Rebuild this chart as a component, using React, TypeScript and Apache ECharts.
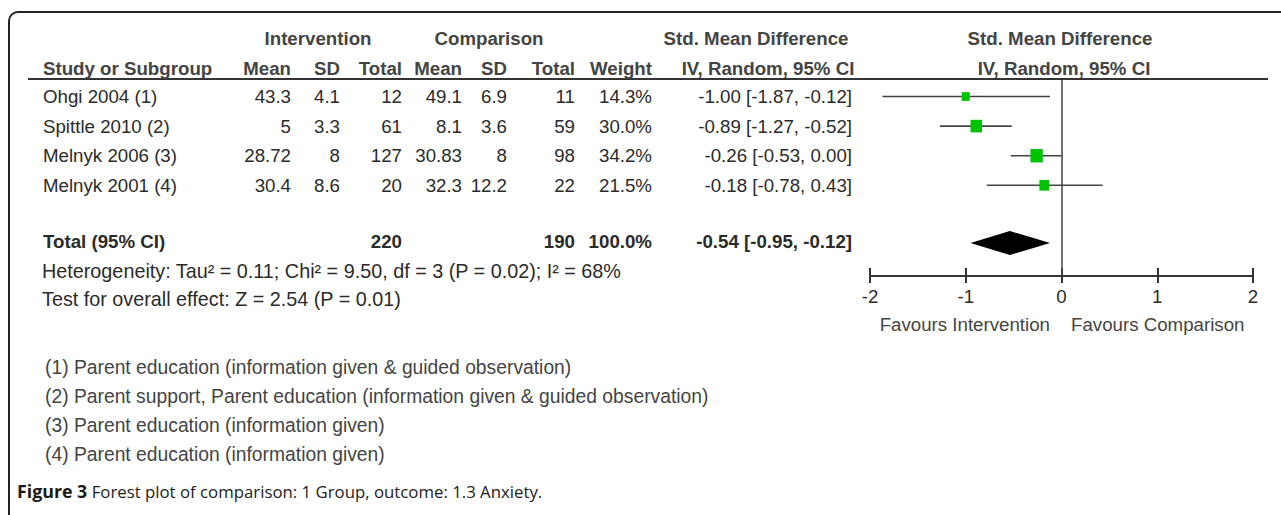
import React, { useEffect, useRef } from "react";
import * as echarts from "echarts";

// ---------- data ----------
const studies = ["Ohgi 2004 (1)", "Spittle 2010 (2)", "Melnyk 2006 (3)", "Melnyk 2001 (4)"];
const intMean = [43.3, 5, 28.72, 30.4];
const intSD = [4.1, 3.3, 8, 8.6];
const intTotal = [12, 61, 127, 20];
const compMean = [49.1, 8.1, 30.83, 32.3];
const compSD = [6.9, 3.6, 8, 12.2];
const compTotal = [11, 59, 98, 22];
const weights = [14.3, 30.0, 34.2, 21.5];
const smd = [-1.0, -0.89, -0.26, -0.18];
const ciLow = [-1.87, -1.27, -0.53, -0.78];
const ciHigh = [-0.12, -0.52, 0.0, 0.43];

const totalLabel = "Total (95% CI)";
const totalInt = 220;
const totalComp = 190;
const totalWeight = 100.0;
const pooled = -0.54;
const pooledLow = -0.95;
const pooledHigh = -0.12;

const xTicks = [-2, -1, 0, 1, 2];
const groupHeaders = ["Intervention", "Comparison"];
const colHeaders = ["Mean", "SD", "Total", "Mean", "SD", "Total", "Weight"];
const heterogeneity = "Heterogeneity: Tau\u00b2 = 0.11; Chi\u00b2 = 9.50, df = 3 (P = 0.02); I\u00b2 = 68%";
const overallEffect = "Test for overall effect: Z = 2.54 (P = 0.01)";
const favours = ["Favours Intervention", "Favours Comparison"];
const footnotes = [
  "(1) Parent education (information given & guided observation)",
  "(2) Parent support, Parent education (information given & guided observation)",
  "(3) Parent education (information given)",
  "(4) Parent education (information given)",
];
const captionBold = "Figure 3";
const captionText = " Forest plot of comparison: 1 Group, outcome: 1.3 Anxiety.";

// ---------- layout ----------
const FONT = '"Liberation Sans", Arial, Helvetica, sans-serif';
const FS = 18.7;
const TEXT = "#2b2b2b";
const HEAD = "#444";
const GRID_TOP = 80;
const AXIS_Y = 276;
const rowOffset = (i: number) => 16.5 + 29.6 * i; // offset from grid top
const TOTAL_OFFSET = 163;
const colRight = [291, 340, 402, 462, 507, 575, 652];

function txt(text: string, x: number, y: number, o: any = {}) {
  return {
    type: "text",
    x,
    y,
    silent: true,
    style: {
      text,
      fontSize: o.fontSize ?? FS,
      fontFamily: o.fontFamily ?? FONT,
      fontWeight: o.bold ? "bold" : "normal",
      fill: o.fill ?? TEXT,
      textAlign: o.align ?? "left",
      textVerticalAlign: "middle",
      ...(o.rich ? { rich: o.rich } : {}),
    },
  };
}

const fmtCI = (e: number, l: number, h: number) =>
  `${e.toFixed(2)} [${l.toFixed(2)}, ${h.toFixed(2)}]`;

function buildGraphics() {
  const g: any[] = [];
  // frame (top + left with rounded corner)
  g.push({
    type: "rect",
    silent: true,
    shape: { x: 9, y: 12, width: 1400, height: 700, r: [9, 0, 0, 0] },
    style: { fill: "none", stroke: "#222", lineWidth: 2 },
  });
  // header rule
  g.push({
    type: "line",
    silent: true,
    shape: { x1: 28, y1: GRID_TOP - 1, x2: 1268, y2: GRID_TOP - 1 },
    style: { stroke: "#333", lineWidth: 2 },
  });
  // header row 1
  g.push(txt(groupHeaders[0], 318, 38, { bold: true, align: "center", fill: HEAD }));
  g.push(txt(groupHeaders[1], 489, 38, { bold: true, align: "center", fill: HEAD }));
  g.push(txt("Std. Mean Difference", 756, 38, { bold: true, align: "center", fill: HEAD }));
  g.push(txt("Std. Mean Difference", 1060, 38, { bold: true, align: "center", fill: HEAD }));
  // header row 2
  g.push(txt("Study or Subgroup", 43, 68, { bold: true, fill: HEAD }));
  colHeaders.forEach((h, i) => g.push(txt(h, colRight[i], 68, { bold: true, align: "right", fill: HEAD })));
  g.push(txt("IV, Random, 95% CI", 768, 68, { bold: true, align: "center", fill: HEAD }));
  g.push(txt("IV, Random, 95% CI", 1064, 68, { bold: true, align: "center", fill: HEAD }));
  // study rows
  studies.forEach((s, i) => {
    const y = GRID_TOP + rowOffset(i);
    const vals = [
      String(intMean[i]),
      String(intSD[i]),
      String(intTotal[i]),
      String(compMean[i]),
      String(compSD[i]),
      String(compTotal[i]),
      weights[i].toFixed(1) + "%",
    ];
    g.push(txt(s, 43, y));
    vals.forEach((v, j) => g.push(txt(v, colRight[j], y, { align: "right" })));
    g.push(txt(fmtCI(smd[i], ciLow[i], ciHigh[i]), 852, y, { align: "right" }));
  });
  // total row
  const ty = 241;
  g.push(txt(totalLabel, 43, ty, { bold: true }));
  g.push(txt(String(totalInt), colRight[2], ty, { bold: true, align: "right" }));
  g.push(txt(String(totalComp), colRight[5], ty, { bold: true, align: "right" }));
  g.push(txt(totalWeight.toFixed(1) + "%", colRight[6], ty, { bold: true, align: "right" }));
  g.push(txt(fmtCI(pooled, pooledLow, pooledHigh), 852, ty, { bold: true, align: "right" }));
  // stats
  g.push(txt(heterogeneity, 42, 271, { fontSize: 19.8 }));
  g.push(txt(overallEffect, 42, 299, { fontSize: 19.8 }));
  // favours
  g.push(txt(favours[0], 1050, 324, { align: "right", fill: HEAD }));
  g.push(txt(favours[1], 1071, 324, { align: "left", fill: HEAD }));
  // footnotes
  footnotes.forEach((f, i) => g.push(txt(f, 45, 367 + 29.3 * i, { fill: HEAD, fontSize: 19.3 })));
  // caption
  g.push(
    txt(`{b|${captionBold}}${captionText}`, 17, 491, {
      fontFamily: '"Open Sans", sans-serif',
      fontSize: 16.8,
      fill: "#222",
      rich: {
        b: { fontFamily: '"Open Sans", sans-serif', fontSize: 17.8, fontWeight: "bold", fill: "#1a1a1a" },
      },
    })
  );
  return g;
}

export default function App() {
  const ref = useRef<HTMLDivElement>(null);
  useEffect(() => {
    if (!ref.current) return;
    const chart = echarts.init(ref.current, null, { renderer: "svg" });

    const studyData = studies.map((_, i) => [smd[i], ciLow[i], ciHigh[i], rowOffset(i), weights[i]]);
    const pooledData = [[pooled, pooledLow, pooledHigh, TOTAL_OFFSET]];

    const axisCommon = {
      type: "value",
      min: xTicks[0],
      max: xTicks[xTicks.length - 1],
      interval: 1,
      position: "bottom",
      splitLine: { show: false },
    };

    chart.setOption({
      animation: false,
      backgroundColor: "#fff",
      grid: { left: 870, right: 28, top: GRID_TOP, bottom: 515 - AXIS_Y, containLabel: false },
      xAxis: [
        {
          ...axisCommon,
          axisLine: { show: true, onZero: false, lineStyle: { color: "#333", width: 2 } },
          axisTick: { show: true, inside: false, length: 7, lineStyle: { color: "#333", width: 2 } },
          axisLabel: { show: true, margin: 11, fontSize: FS, fontFamily: FONT, color: TEXT },
        },
        {
          ...axisCommon,
          offset: 0,
          axisLine: { show: false, onZero: false },
          axisTick: { show: true, inside: true, length: 8, lineStyle: { color: "#333", width: 2 } },
          axisLabel: { show: false },
        },
      ],
      yAxis: { type: "value", min: 0, max: AXIS_Y - GRID_TOP, inverse: true, show: false },
      series: [
        {
          type: "custom",
          clip: false,
          encode: { x: [0, 1, 2], y: 3 },
          data: studyData,
          renderItem: (params: any, api: any) => {
            const y = api.value(3);
            const pe = api.coord([api.value(0), y]);
            const pl = api.coord([api.value(1), y]);
            const ph = api.coord([api.value(2), y]);
            const s = Math.sqrt(api.value(4));
            const w = 2.1 * s;
            const h = 2.3 * s;
            return {
              type: "group",
              children: [
                {
                  type: "line",
                  shape: { x1: pl[0], y1: pl[1], x2: ph[0], y2: ph[1] },
                  style: { stroke: "#444", lineWidth: 1.6 },
                },
                {
                  type: "rect",
                  shape: { x: pe[0] - w / 2, y: pe[1] - h / 2, width: w, height: h },
                  style: { fill: "#00c400" },
                },
              ],
            };
          },
          markLine: {
            silent: true,
            symbol: "none",
            label: { show: false },
            lineStyle: { color: "#444", width: 1.5, type: "solid" },
            data: [{ xAxis: 0 }],
          },
        },
        {
          type: "custom",
          clip: false,
          encode: { x: [0, 1, 2], y: 3 },
          data: pooledData,
          renderItem: (params: any, api: any) => {
            const y = api.value(3);
            const pe = api.coord([api.value(0), y]);
            const pl = api.coord([api.value(1), y]);
            const ph = api.coord([api.value(2), y]);
            return {
              type: "polygon",
              shape: {
                points: [
                  [pl[0], pl[1]],
                  [pe[0], pe[1] - 12],
                  [ph[0], ph[1]],
                  [pe[0], pe[1] + 12],
                ],
              },
              style: { fill: "#000" },
            };
          },
        },
      ],
      graphic: buildGraphics(),
    });
    return () => chart.dispose();
  }, []);
  return (
    <div
      ref={ref}
      style={{ position: "fixed", left: 0, top: 0, width: 1281, height: 515, background: "#fff" }}
    />
  );
}
